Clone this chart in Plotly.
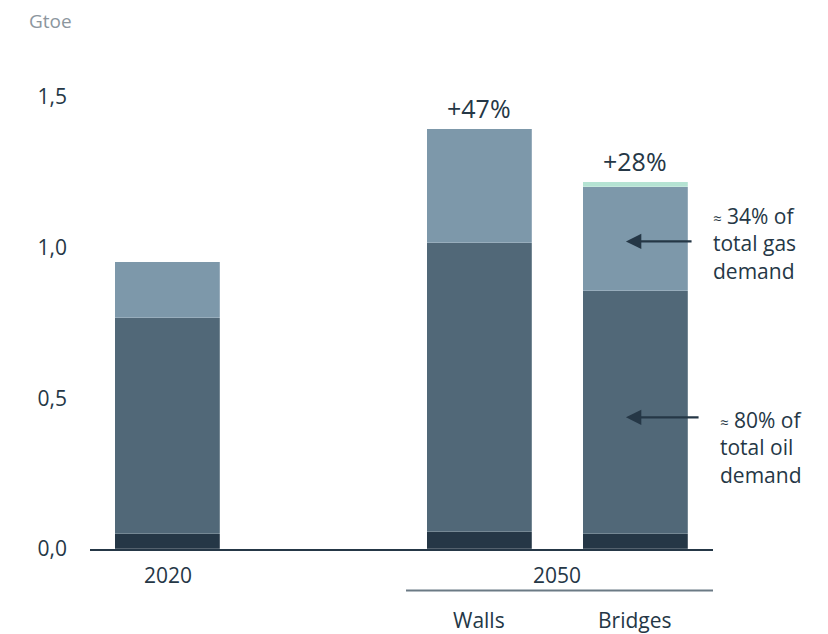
import plotly.graph_objects as go

# Data
positions = [0, 2, 3]
category_top = ["2020", "2050"]
scenario_labels = ["Walls", "Bridges"]
series_names = ["Coal", "Oil", "Gas", "Hydrogen"]
coal = [0.05, 0.058, 0.051]
oil = [0.717, 0.958, 0.806]
gas = [0.186, 0.378, 0.346]
hydrogen = [0.0, 0.0, 0.014]
growth_labels = ["", "+47%", "+28%"]
colors = ["#253746", "#516878", "#7d98aa", "#b5e3d3"]

DARK = "#253746"
FONT = "Open Sans"

# layout geometry (figure pixels; page has an 8px body margin)
ML, MR, MT, MB = 82, 123, 59, 92.5
PH = 634 - MT - MB

fig = go.Figure()
for name, vals, col in zip(series_names, [coal, oil, gas, hydrogen], colors):
    fig.add_trace(go.Bar(
        x=positions, y=vals, name=name, width=0.675,
        marker=dict(color=col, line=dict(color="rgba(255,255,255,0.35)", width=0.6)),
        hoverinfo="y+name",
    ))

totals = [c + o + g + h for c, o, g, h in zip(coal, oil, gas, hydrogen)]
anns = []
for x, t, lab in zip(positions, totals, growth_labels):
    if lab:
        anns.append(dict(x=x, y=t, text=lab, showarrow=False, yanchor="middle", yshift=21,
                         font=dict(size=25, color=DARK, family=FONT, weight=500)))

# x category labels
anns.append(dict(x=positions[0], y=0, text=category_top[0], showarrow=False,
                 yanchor="middle", yshift=-26, font=dict(size=21, color=DARK, family=FONT)))
anns.append(dict(x=(positions[1] + positions[2]) / 2, y=0, text=category_top[1], showarrow=False,
                 yanchor="middle", yshift=-26, font=dict(size=21, color=DARK, family=FONT)))
for x, lab in zip(positions[1:], scenario_labels):
    anns.append(dict(x=x, y=0, text=lab, showarrow=False,
                     yanchor="middle", yshift=-71, font=dict(size=21, color=DARK, family=FONT)))

approx = '<span style="font-size:15px">≈</span>'
# side notes
anns.append(dict(x=3.5, y=1.013, text=approx + " 34% of<br>total gas<br>demand",
                 showarrow=False, xanchor="left", yanchor="middle", align="left",
                 borderpad=0, xshift=-1, font=dict(size=21, color=DARK, family=FONT)))
anns.append(dict(x=3.5, y=0.3365, text=approx + " 80% of<br>total oil<br>demand",
                 showarrow=False, xanchor="left", yanchor="middle", align="left",
                 borderpad=0, xshift=6, font=dict(size=21, color=DARK, family=FONT)))

# arrows
for hx, hy, tx in [(2.941, 1.021, 3.372), (2.941, 0.437, 3.417)]:
    anns.append(dict(x=hx, y=hy, ax=tx, ay=hy, xref="x", yref="y", axref="x", ayref="y",
                     text="", showarrow=True, arrowhead=2, arrowsize=1.4, arrowwidth=2.2,
                     arrowcolor=DARK))

# unit label
anns.append(dict(x=(20 - ML) / 623, y=(634 - MB - 13) / PH, xref="paper", yref="paper",
                 text="Gtoe", showarrow=False, xanchor="left", yanchor="middle", borderpad=0,
                 font=dict(size=19, color="#8c969e", family=FONT)))

fig.update_layout(
    width=828, height=634,
    margin=dict(l=ML, r=MR, t=MT, b=MB),
    barmode="stack",
    bargap=0,
    showlegend=False,
    plot_bgcolor="white", paper_bgcolor="white",
    separators=",.",
    font=dict(family=FONT, color=DARK, size=21),
    xaxis=dict(range=[-0.5, 3.5], showticklabels=False, showgrid=False, zeroline=False,
               showline=True, linecolor=DARK, linewidth=1.5, ticks=""),
    yaxis=dict(range=[0, 1.6], tickvals=[0, 0.5, 1.0, 1.5], tickformat=".1f",
               showgrid=False, zeroline=False, showline=False, ticks="",
               ticklabelstandoff=22, tickfont=dict(size=21, color=DARK, family=FONT)),
    annotations=anns,
)

# separator line under 2050
sep_y = -(583 - (634 - MB)) / PH
fig.add_shape(type="line", xref="x", yref="paper", x0=1.529, x1=3.5,
              y0=sep_y, y1=sep_y, line=dict(color="#6b7a85", width=2))

fig.write_html("out.html")
